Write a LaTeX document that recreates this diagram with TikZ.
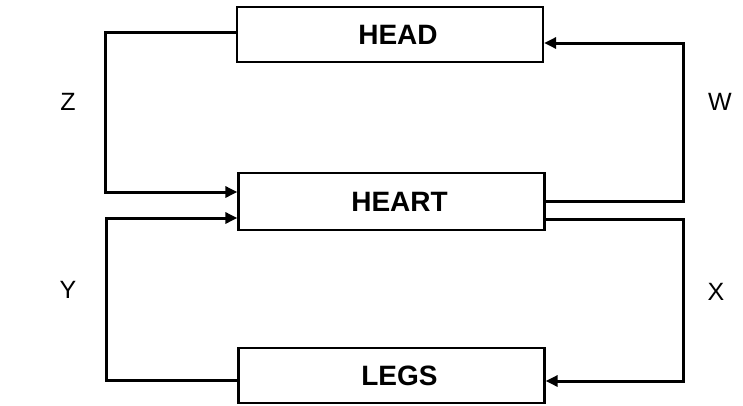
\documentclass[tikz,border=0pt]{standalone}
\usepackage{fontspec}
\setmainfont{Liberation Sans}
\usetikzlibrary{arrows.meta}
\begin{document}
\begin{tikzpicture}[x=1pt,y=-1pt,
  organ/.style={draw,line width=2.3pt,minimum width=306pt,minimum height=55pt,inner sep=0pt,font=\bfseries\fontsize{28}{28}\selectfont},
  flow/.style={line width=3pt,line join=miter,-{Triangle[length=12pt,width=11pt]}},
  lbl/.style={font=\fontsize{25}{25}\selectfont}]
\useasboundingbox (0,0) rectangle (743,405);
\node[organ] (head) at (390,34.5) {\hspace{16pt}HEAD};
\node[organ,minimum height=57pt] (heart) at (391.5,201.5) {\hspace{16pt}HEART};
\node[organ] (legs) at (391.5,375.5) {\hspace{16pt}LEGS};
% Z
\draw[flow] ([yshift=2.5pt]head.west) -- ++(-130,0) |- ([yshift=9.5pt]heart.west);
% W
\draw[flow] (heart.east) -- ++(138,0) |- ([yshift=-8.5pt]head.east);
% X
\draw[flow] ([yshift=-17.5pt]heart.east) -- ++(138,0) |- ([yshift=-5.5pt]legs.east);
% Y
\draw[flow] ([yshift=-4.5pt]legs.west) -- ++(-131,0) |- ([yshift=-16.5pt]heart.west);
\node[lbl] (z) at (68,102) {Z};
\node[lbl] (w) at (720,102) {W};
\node[lbl] (y) at (68,290) {Y};
\node[lbl] (x) at (716,292) {X};
\end{tikzpicture}
\end{document}
